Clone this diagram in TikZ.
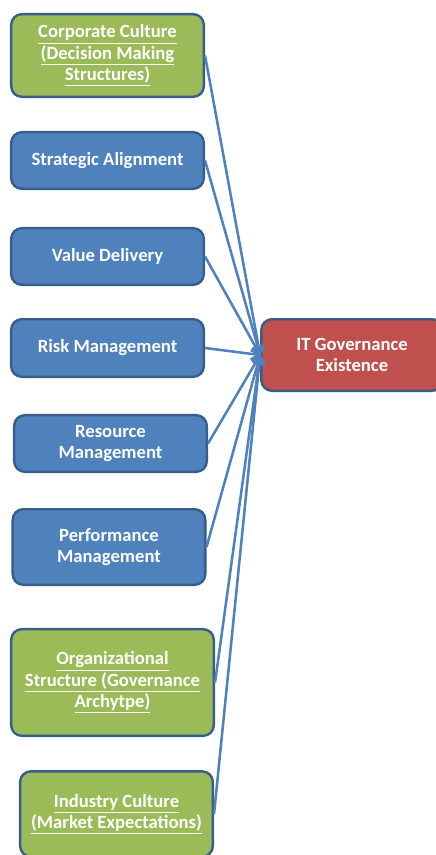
\documentclass[tikz,border=0pt]{standalone}
\usepackage{fontspec}
\setmainfont{Carlito}
\usetikzlibrary{positioning}
\usetikzlibrary{arrows.meta}

\definecolor{factgreen}{HTML}{9BBB59}
\definecolor{factblue}{HTML}{4F81BD}
\definecolor{itred}{HTML}{C0504D}
\definecolor{edgeblue}{HTML}{385D8A}

\begin{document}
\begin{tikzpicture}[x=0.75pt,y=-0.75pt,
    factor/.style={rounded corners=8pt,draw=edgeblue,line width=1.8pt,text=white,
      font=\fontsize{14}{16}\selectfont\bfseries,align=center,inner sep=2pt,minimum width=144.5pt},
    govbox/.style={factor,fill=factblue},
    culture/.style={factor,fill=factgreen},
    link/.style={draw=factblue,line width=1.9pt,-{Straight Barb[length=5pt,width=9pt]}}]
    \useasboundingbox (0,0) rectangle (435,855);

    \node[culture,minimum height=62pt] (corp) at (107.5,55.5) {\underline{Corporate Culture}\\\underline{(Decision Making}\\\underline{Structures)}};
    \node[govbox,minimum height=42.5pt] (align) at (107.5,160.5) {Strategic Alignment};
    \node[govbox,minimum height=42.5pt] (value) at (107.5,256.5) {Value Delivery};
    \node[govbox,minimum height=43.2pt] (risk) at (107.5,348) {Risk Management};
    \node[govbox,minimum height=42.5pt] (resource) at (110.5,443.5) {Resource\\Management};
    \node[govbox,minimum height=56.7pt] (perform) at (109,547) {Performance\\Management};
    \node[culture,minimum width=152pt,minimum height=80pt] (org) at (112.5,682.5) {\underline{Organizational}\\\underline{Structure (Governance}\\\underline{Archytpe)}};
    \node[culture,minimum height=64pt] (industry) at (116.5,814) {\underline{Industry Culture}\\\underline{(Market Expectations)}};

    \node[factor,fill=itred,minimum width=136pt,minimum height=53.7pt] (itgov) at (352,355) {IT Governance\\Existence};

    \draw[link] (corp.east) -- (itgov.west);
    \draw[link] (align.east) -- (itgov.west);
    \draw[link] (value.east) -- (itgov.west);
    \draw[link] (risk.east) -- (itgov.west);
    \draw[link] (resource.east) -- (itgov.west);
    \draw[link] (perform.east) -- (itgov.west);
    \draw[link] (org.east) -- (itgov.west);
    \draw[link] (industry.east) -- (itgov.west);
\end{tikzpicture}
\end{document}
